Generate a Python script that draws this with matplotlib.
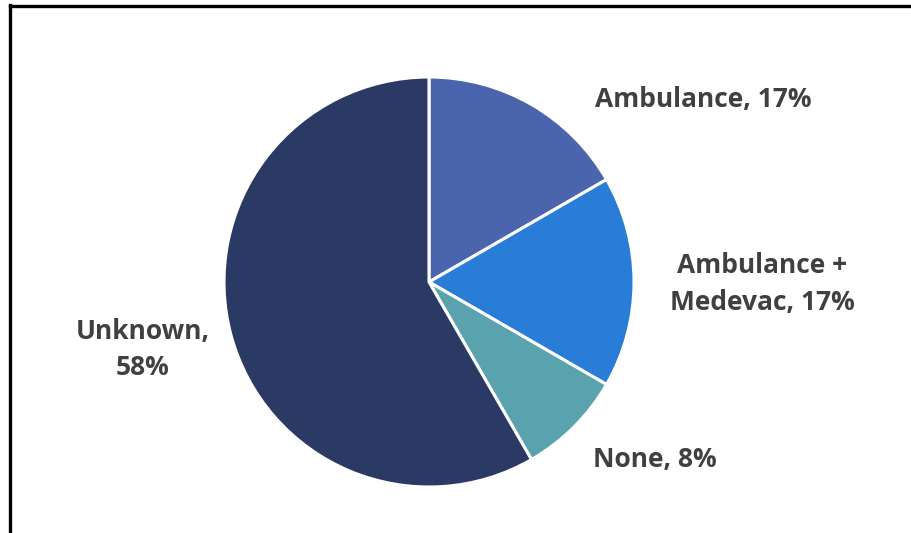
import matplotlib.pyplot as plt
from matplotlib.lines import Line2D

# Transport mode shares (counts out of 12)
labels = ["Ambulance", "Ambulance +\nMedevac", "None", "Unknown"]
counts = [2, 2, 1, 7]
pct_text = ["17%", "17%", "8%", "58%"]
colors = ["#4A64AD", "#2A7DD7", "#5AA3AE", "#2B3A64"]

# label anchor points, in pie-radius units
label_xy = [(1.337, 0.888), (1.624, -0.01), (1.102, -0.868), (-1.395, -0.33)]

W, H = 911, 533
cx, cy, R = 429, 282, 205

fig = plt.figure(figsize=(W / 100, H / 100), dpi=100)
ax = fig.add_axes([0, 0, 1, 1])

ax.pie(counts, colors=colors, startangle=90, counterclock=False,
       radius=1.0, wedgeprops=dict(edgecolor="white", linewidth=2.2))

for lab, p, (x, y) in zip(labels, pct_text, label_xy):
    if lab == "Unknown":
        txt = f"{lab},\n{p}"
    else:
        txt = f"{lab}, {p}"
    ax.text(x, y, txt, ha="center", va="center", fontsize=19,
            fontweight="bold", color="#404040", family="Open Sans",
            linespacing=1.45)

ax.set_xlim(-cx / R, (W - cx) / R)
ax.set_ylim(-(H - cy) / R, cy / R)
ax.set_aspect("auto")
ax.axis("off")

# frame on left and top edge
fig.add_artist(Line2D([9.5 / W, 9.5 / W], [0, 1 - 5 / H], transform=fig.transFigure,
                      color="black", linewidth=2.4, solid_capstyle="projecting"))
fig.add_artist(Line2D([9.5 / W, 1], [1 - 6 / H, 1 - 6 / H], transform=fig.transFigure,
                      color="black", linewidth=2.4, solid_capstyle="projecting"))

fig.savefig("out.png", dpi=100, facecolor="white")
